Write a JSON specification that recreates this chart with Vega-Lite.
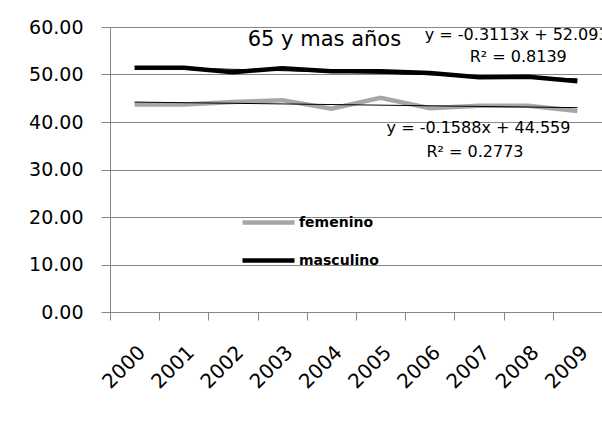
{
  "$schema": "https://vega.github.io/schema/vega-lite/v6.json",
  "width": 492,
  "height": 285,
  "autosize": {"type": "none"},
  "padding": {"left": 110, "top": 27, "right": 0, "bottom": 114},
  "background": "white",
  "config": {
    "view": {"stroke": null},
    "font": "DejaVu Sans"
  },
  "datasets": {
    "series": [
      {"year": 2000, "sexo": "femenino", "valor": 43.7},
      {"year": 2001, "sexo": "femenino", "valor": 43.7},
      {"year": 2002, "sexo": "femenino", "valor": 44.2},
      {"year": 2003, "sexo": "femenino", "valor": 44.6},
      {"year": 2004, "sexo": "femenino", "valor": 42.8},
      {"year": 2005, "sexo": "femenino", "valor": 45.1},
      {"year": 2006, "sexo": "femenino", "valor": 42.9},
      {"year": 2007, "sexo": "femenino", "valor": 43.4},
      {"year": 2008, "sexo": "femenino", "valor": 43.4},
      {"year": 2009, "sexo": "femenino", "valor": 42.3},
      {"year": 2000, "sexo": "masculino", "valor": 51.4},
      {"year": 2001, "sexo": "masculino", "valor": 51.4},
      {"year": 2002, "sexo": "masculino", "valor": 50.5},
      {"year": 2003, "sexo": "masculino", "valor": 51.3},
      {"year": 2004, "sexo": "masculino", "valor": 50.7},
      {"year": 2005, "sexo": "masculino", "valor": 50.7},
      {"year": 2006, "sexo": "masculino", "valor": 50.3},
      {"year": 2007, "sexo": "masculino", "valor": 49.4},
      {"year": 2008, "sexo": "masculino", "valor": 49.5},
      {"year": 2009, "sexo": "masculino", "valor": 48.6}
    ],
    "notes": [
      {"year": 2004, "valor": 57.3, "label": "65 y mas años", "kind": "title"},
      {"year": 2006, "valor": 58.3, "label": "y = -0.3113x + 52.093", "kind": "eqm"},
      {"year": 2008, "valor": 53.7, "label": "R² = 0.8139", "kind": "r2m"},
      {"year": 2005, "valor": 38.7, "label": "y = -0.1588x + 44.559", "kind": "eqf"},
      {"year": 2007, "valor": 33.7, "label": "R² = 0.2773", "kind": "r2f"}
    ]
  },
  "encoding": {
    "x": {
      "field": "year",
      "type": "ordinal",
      "scale": {"type": "band", "paddingInner": 0, "paddingOuter": 0, "domain": [2000, 2001, 2002, 2003, 2004, 2005, 2006, 2007, 2008, 2009]},
      "axis": {
        "title": null,
        "labelAngle": -45,
        "labelFont": "DejaVu Sans",
        "labelFontSize": 20,
        "labelColor": "#000000",
        "labelPadding": 22,
        "labelDx": -3,
        "tickBand": "extent",
        "tickSize": 8,
        "tickColor": "#868686",
        "domainColor": "#868686",
        "grid": false
      }
    },
    "y": {
      "field": "valor",
      "type": "quantitative",
      "scale": {"domain": [0, 60], "nice": false, "zero": true},
      "axis": {
        "title": null,
        "values": [0, 10, 20, 30, 40, 50, 60],
        "format": ".2f",
        "labelFont": "DejaVu Sans",
        "labelFontSize": 19,
        "labelColor": "#000000",
        "labelPadding": 18,
        "tickSize": 9,
        "tickColor": "#868686",
        "domainColor": "#868686",
        "grid": true,
        "gridColor": "#868686",
        "gridOpacity": 1
      }
    }
  },
  "layer": [
    {
      "data": {"name": "series"},
      "mark": {"type": "line", "strokeWidth": 4.5},
      "encoding": {
        "color": {
          "field": "sexo",
          "type": "nominal",
          "scale": {"domain": ["femenino", "masculino"], "range": ["#a6a6a6", "#000000"]},
          "legend": {
            "title": null,
            "orient": "none",
            "legendX": 130,
            "legendY": 167,
            "padding": 0,
            "symbolType": "stroke",
            "symbolSize": 2704,
            "symbolStrokeWidth": 4.5,
            "rowPadding": -16,
            "labelFont": "DejaVu Sans",
            "labelFontSize": 14,
            "labelFontWeight": "bold",
            "labelColor": "#000000",
            "labelOffset": 2
          }
        }
      }
    },
    {
      "data": {"name": "series"},
      "transform": [
        {"regression": "valor", "on": "year", "groupby": ["sexo"], "method": "linear"}
      ],
      "mark": {"type": "line", "strokeWidth": 1, "color": "#000000"},
      "encoding": {"detail": {"field": "sexo"}}
    },
    {
      "data": {"name": "notes"},
      "transform": [{"filter": "datum.kind == 'title'"}],
      "mark": {"type": "text", "font": "DejaVu Sans", "fontSize": 21, "align": "center", "baseline": "middle", "dx": -7, "color": "#000000"},
      "encoding": {"text": {"field": "label"}}
    },
    {
      "data": {"name": "notes"},
      "transform": [{"filter": "datum.kind == 'eqm'"}],
      "mark": {"type": "text", "font": "DejaVu Sans", "fontSize": 16, "align": "left", "baseline": "middle", "dx": -5, "color": "#000000"},
      "encoding": {"text": {"field": "label"}}
    },
    {
      "data": {"name": "notes"},
      "transform": [{"filter": "datum.kind == 'eqf'"}],
      "mark": {"type": "text", "font": "DejaVu Sans", "fontSize": 16, "align": "left", "baseline": "middle", "dx": 6, "color": "#000000"},
      "encoding": {"text": {"field": "label"}}
    },
    {
      "data": {"name": "notes"},
      "transform": [{"filter": "datum.kind == 'r2m'"}],
      "mark": {"type": "text", "font": "DejaVu Sans", "fontSize": 16, "align": "center", "baseline": "middle", "dx": -10, "color": "#000000"},
      "encoding": {"text": {"field": "label"}}
    },
    {
      "data": {"name": "notes"},
      "transform": [{"filter": "datum.kind == 'r2f'"}],
      "mark": {"type": "text", "font": "DejaVu Sans", "fontSize": 16, "align": "center", "baseline": "middle", "dx": -4, "color": "#000000"},
      "encoding": {"text": {"field": "label"}}
    }
  ]
}
